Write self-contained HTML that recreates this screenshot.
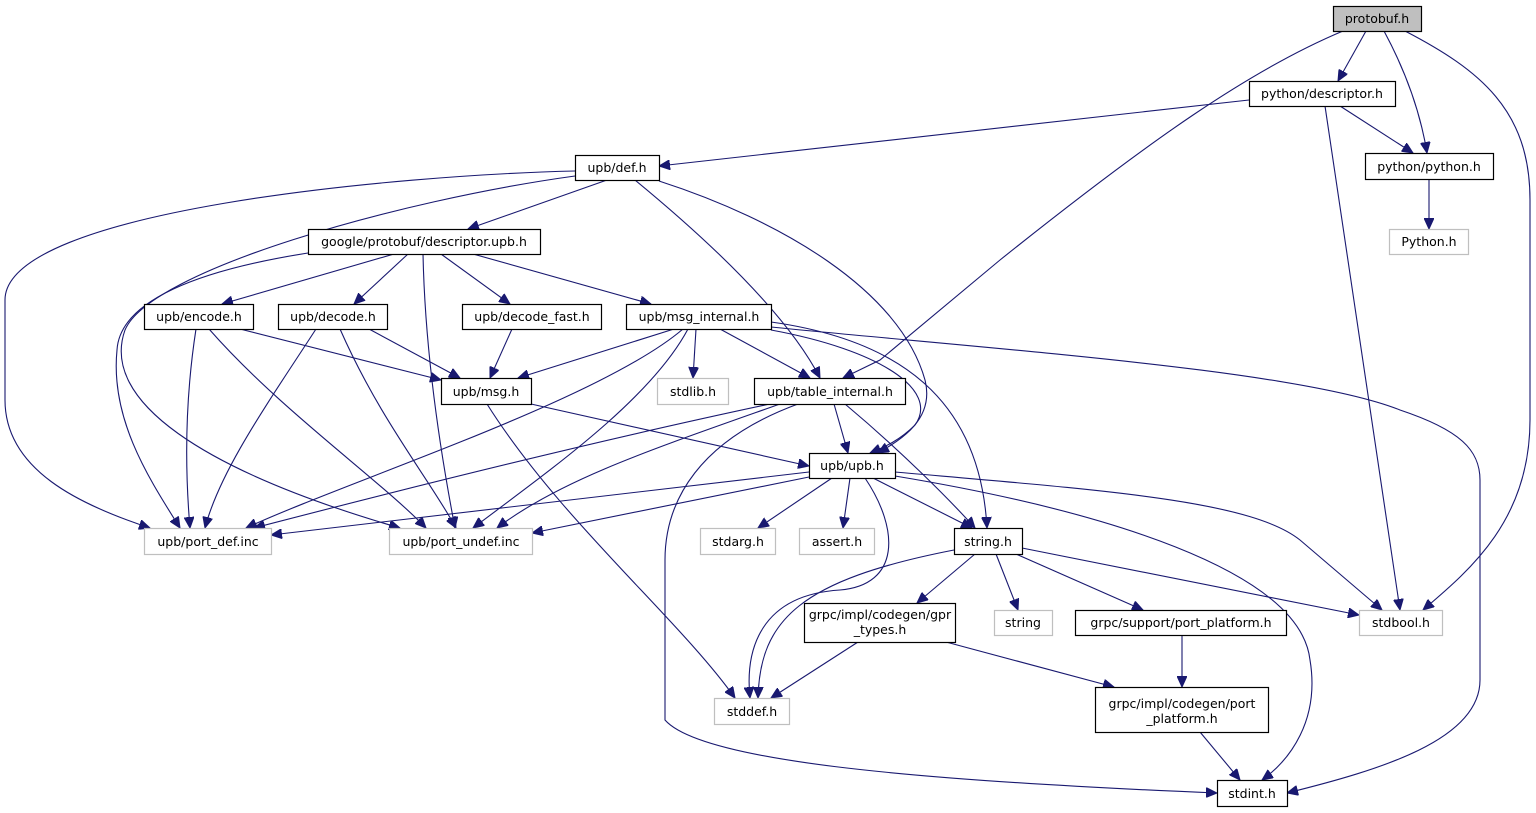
<!DOCTYPE html>
<html><head><meta charset="utf-8"><style>
html,body{margin:0;padding:0;background:#fff;}
svg{display:block;}
text{font-family:"DejaVu Sans","Liberation Sans",sans-serif;font-size:12.5px;fill:#000;text-anchor:middle;}
.n rect{fill:#fff;stroke:#000;stroke-width:1.2;}
.g rect{fill:#fff;stroke:#bfbfbf;stroke-width:1.2;}
path{fill:none;stroke:#191970;stroke-width:1.1;}
</style></head><body>
<svg width="1536" height="813" viewBox="0 0 1536 813" xmlns="http://www.w3.org/2000/svg">
<defs><marker id="a" markerUnits="userSpaceOnUse" markerWidth="12" markerHeight="10" refX="11" refY="5" orient="auto"><path d="M0,0 L11,5 L0,10 Z" style="fill:#191970;stroke:#191970;stroke-width:1"/></marker></defs>
<g marker-end="url(#a)">
<path d="M1366,31 L1338,81"/>
<path d="M1384,31 C1405,70 1420,110 1427,153"/>
<path d="M1405,31 C1480,70 1530,110 1530,200 L1530,420 C1530,520 1470,570 1423,610"/>
<path d="M1343,31 C1250,70 1150,140 1000,260 L880,360 L843,378"/>
<path d="M1249,100 L659,166"/>
<path d="M1340,106 L1413,153"/>
<path d="M1325,106 L1400,610"/>
<path d="M1429,179 L1429,229"/>
<path d="M607,180 L468,229"/>
<path d="M575,171 C400,175 5,210 5,300 L5,400 C5,470 80,505 150,528"/>
<path d="M575,176 C400,200 150,270 125,330 C100,400 200,470 400,528"/>
<path d="M635,180 C720,250 790,320 820,378"/>
<path d="M659,181 C780,220 900,290 925,380 C935,420 900,440 878,453"/>
<path d="M394,254 L222,304"/>
<path d="M408,254 L354,304"/>
<path d="M441,254 L510,304"/>
<path d="M473,254 L651,304"/>
<path d="M423,254 C425,350 440,450 455,528"/>
<path d="M308,253 C200,270 120,300 117,350 C110,420 150,480 180,528"/>
<path d="M240,329 L441,380"/>
<path d="M196,329 C185,400 185,470 190,528"/>
<path d="M209,329 C280,410 380,480 426,528"/>
<path d="M369,329 L460,378"/>
<path d="M316,329 C270,400 220,470 205,528"/>
<path d="M340,329 C380,420 430,480 456,528"/>
<path d="M512,329 L490,378"/>
<path d="M674,329 L518,378"/>
<path d="M683,329 C600,400 350,480 246,528"/>
<path d="M688,329 C650,400 550,470 473,528"/>
<path d="M696,329 L693,378"/>
<path d="M720,329 L810,378"/>
<path d="M771,330 C880,350 940,390 915,425 C900,440 885,447 870,453"/>
<path d="M771,322 C900,340 980,400 987,528"/>
<path d="M771,327 C1000,350 1300,370 1400,410 C1460,430 1480,450 1480,480 L1480,680 C1480,740 1380,770 1287,793"/>
<path d="M531,404 L809,466"/>
<path d="M487,404 C560,520 680,620 735,698"/>
<path d="M834,404 L848,453"/>
<path d="M845,404 C900,450 950,500 975,528"/>
<path d="M770,404 C600,440 400,490 254,528"/>
<path d="M780,404 C650,450 560,480 497,528"/>
<path d="M798,404 C700,440 665,500 665,560 L665,720 C700,760 900,780 1217,793"/>
<path d="M809,472 L271,535"/>
<path d="M809,477 L532,533"/>
<path d="M832,478 L758,528"/>
<path d="M850,478 L843,528"/>
<path d="M873,478 L972,528"/>
<path d="M865,478 C900,530 900,585 840,590 C760,595 745,650 750,698"/>
<path d="M895,472 C1100,490 1250,500 1300,540 L1382,610"/>
<path d="M895,476 C1100,510 1300,570 1310,660 C1320,720 1290,760 1262,780"/>
<path d="M954,550 C800,580 760,620 758,698"/>
<path d="M975,554 L917,603"/>
<path d="M996,554 L1018,610"/>
<path d="M1016,554 L1143,610"/>
<path d="M1022,548 L1359,615"/>
<path d="M858,642 L771,698"/>
<path d="M946,642 L1114,687"/>
<path d="M1182,635 L1182,687"/>
<path d="M1200,732 L1240,780"/>
</g>
<g class="n"><rect x="1333.5" y="6.5" width="88" height="25" style="fill:#bfbfbf"/><text x="1377" y="23">protobuf.h</text></g>
<g class="n"><rect x="1249.5" y="81.5" width="146" height="25"/><text x="1322" y="98">python/descriptor.h</text></g>
<g class="n"><rect x="575.5" y="155.5" width="84" height="25"/><text x="617" y="172">upb/def.h</text></g>
<g class="n"><rect x="1365.5" y="153.5" width="128" height="26"/><text x="1429" y="171">python/python.h</text></g>
<g class="g"><rect x="1389.5" y="229.5" width="79" height="25"/><text x="1429" y="246">Python.h</text></g>
<g class="n"><rect x="308.5" y="229.5" width="232" height="25"/><text x="424" y="246">google/protobuf/descriptor.upb.h</text></g>
<g class="n"><rect x="144.5" y="304.5" width="109" height="25"/><text x="199" y="321">upb/encode.h</text></g>
<g class="n"><rect x="278.5" y="304.5" width="109" height="25"/><text x="333" y="321">upb/decode.h</text></g>
<g class="n"><rect x="462.5" y="304.5" width="139" height="25"/><text x="532" y="321">upb/decode_fast.h</text></g>
<g class="n"><rect x="626.5" y="304.5" width="145" height="25"/><text x="699" y="321">upb/msg_internal.h</text></g>
<g class="n"><rect x="441.5" y="378.5" width="90" height="26"/><text x="486" y="396">upb/msg.h</text></g>
<g class="g"><rect x="657.5" y="378.5" width="71" height="26"/><text x="693" y="396">stdlib.h</text></g>
<g class="n"><rect x="754.5" y="378.5" width="151" height="26"/><text x="830" y="396">upb/table_internal.h</text></g>
<g class="n"><rect x="809.5" y="453.5" width="86" height="25"/><text x="852" y="470">upb/upb.h</text></g>
<g class="g"><rect x="144.5" y="528.5" width="127" height="26"/><text x="208" y="546">upb/port_def.inc</text></g>
<g class="g"><rect x="389.5" y="528.5" width="143" height="26"/><text x="461" y="546">upb/port_undef.inc</text></g>
<g class="g"><rect x="700.5" y="528.5" width="75" height="26"/><text x="738" y="546">stdarg.h</text></g>
<g class="g"><rect x="799.5" y="528.5" width="75" height="26"/><text x="837" y="546">assert.h</text></g>
<g class="n"><rect x="954.5" y="528.5" width="68" height="26"/><text x="988" y="546">string.h</text></g>
<g class="n"><rect x="804.5" y="603.5" width="151" height="39"/><text x="880" y="619">grpc/impl/codegen/gpr</text><text x="880" y="634">_types.h</text></g>
<g class="g"><rect x="994.5" y="610.5" width="58" height="25"/><text x="1023" y="627">string</text></g>
<g class="n"><rect x="1075.5" y="610.5" width="211" height="25"/><text x="1181" y="627">grpc/support/port_platform.h</text></g>
<g class="g"><rect x="1359.5" y="610.5" width="83" height="25"/><text x="1401" y="627">stdbool.h</text></g>
<g class="g"><rect x="714.5" y="698.5" width="75" height="26"/><text x="752" y="716">stddef.h</text></g>
<g class="n"><rect x="1095.5" y="687.5" width="173" height="45"/><text x="1182" y="708">grpc/impl/codegen/port</text><text x="1182" y="723">_platform.h</text></g>
<g class="n"><rect x="1217.5" y="780.5" width="70" height="26"/><text x="1252" y="798">stdint.h</text></g>
</svg>
</body></html>
